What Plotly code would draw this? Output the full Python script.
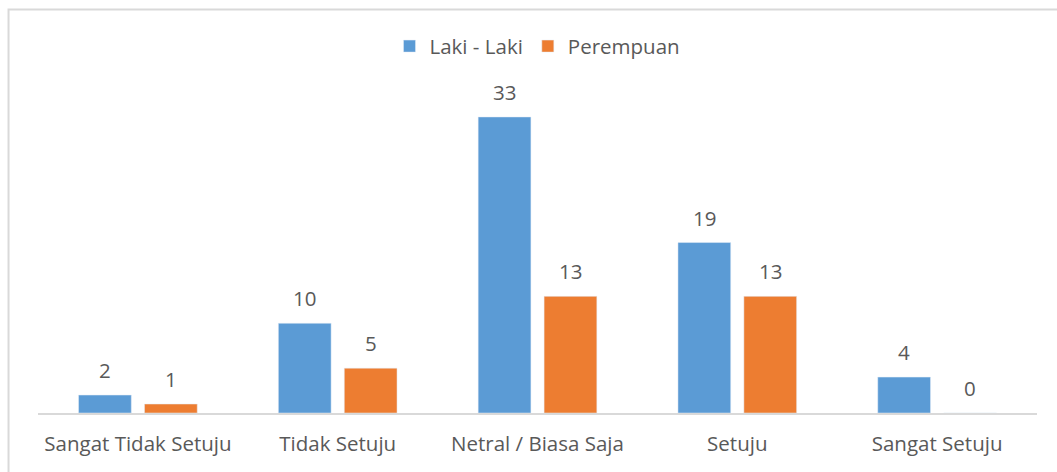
import plotly.graph_objects as go

categories = ["Sangat Tidak Setuju", "Tidak Setuju", "Netral / Biasa Saja", "Setuju", "Sangat Setuju"]
laki = [2, 10, 33, 19, 4]
perempuan = [1, 5, 13, 13, 0]

font_family = "Open Sans, Noto Sans, sans-serif"
text_color = "#595959"
fs = 20.5

fig = go.Figure()
fig.add_trace(go.Bar(name="Laki - Laki", x=categories, y=laki, marker_color="#5B9BD5"))
fig.add_trace(go.Bar(name="Perempuan", x=categories, y=perempuan, marker_color="#ED7D31"))

# value labels placed above each bar
annotations = []
for series, shift in ((laki, -33), (perempuan, 33)):
    for cat, val in zip(categories, series):
        annotations.append(dict(x=cat, y=val, xref="x", yref="y", text=str(val),
                                showarrow=False, xshift=shift, yshift=25,
                                yanchor="middle", xanchor="center",
                                font=dict(size=fs, color=text_color, family=font_family)))

fig.update_layout(
    width=1057, height=472,
    margin=dict(l=38, r=20, t=99, b=59, autoexpand=False),
    paper_bgcolor="white", plot_bgcolor="white",
    barmode="group", bargap=0.34, bargroupgap=0.2,
    font=dict(family=font_family, size=fs, color=text_color),
    legend=dict(orientation="h", x=0.5, xanchor="center", y=0.902, yanchor="middle",
                yref="container", font=dict(size=fs, color=text_color),
                itemwidth=30, tracegroupgap=0),
    showlegend=True,
    annotations=annotations,
    xaxis=dict(showline=True, linecolor="#D9D9D9", linewidth=1.5, ticks="",
               tickfont=dict(size=fs, color=text_color), showgrid=False,
               ticklabelstandoff=12, automargin=False),
    yaxis=dict(range=[0, 35], visible=False, showgrid=False, zeroline=False),
    shapes=[dict(type="rect", xref="paper", yref="paper",
                 x0=-0.0295, x1=1.03, y0=-0.22, y1=1.285,
                 line=dict(color="#D9D9D9", width=2), fillcolor="rgba(0,0,0,0)", layer="below")],
)

fig.write_html("out.html", config={"displayModeBar": False},
               post_script="document.body.style.margin='0px';document.body.style.overflow='hidden';")
